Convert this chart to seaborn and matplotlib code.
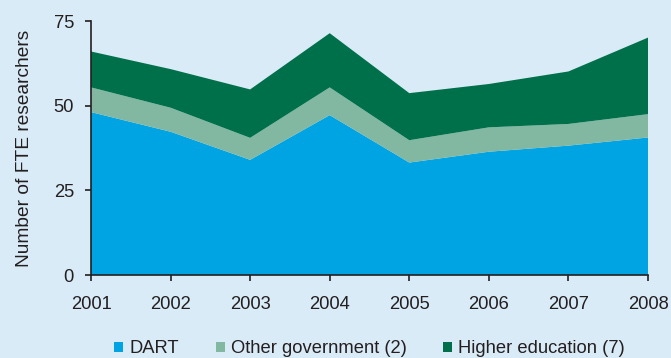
import matplotlib
matplotlib.use("Agg")
import matplotlib.pyplot as plt
import seaborn as sns
import pandas as pd
from matplotlib.patches import Patch

years = [2001, 2002, 2003, 2004, 2005, 2006, 2007, 2008]
dart = [48.1, 42.3, 34.0, 47.2, 33.2, 36.4, 38.2, 40.6]
other_gov = [7.3, 7.1, 6.5, 8.2, 6.6, 7.2, 6.4, 6.9]
higher_ed = [10.6, 11.4, 14.3, 16.0, 13.9, 12.8, 15.5, 22.6]
labels = ["DART", "Other government (2)", "Higher education (7)"]
colors = ["#00A4E2", "#82B8A2", "#00704A"]
bg = "#DAEBF8"
ink = "#231F20"

sns.set_style("ticks")
plt.rcParams["font.family"] = ["Liberation Sans", "DejaVu Sans"]

df = pd.DataFrame({"year": years, labels[0]: dart, labels[1]: other_gov, labels[2]: higher_ed})

fig = plt.figure(figsize=(6.71, 3.58), dpi=100, facecolor=bg)
ax = fig.add_axes([91 / 671, 1 - 275 / 358, (648 - 91) / 671, (275 - 21) / 358])
ax.set_facecolor(bg)

ax.stackplot(df["year"], df[labels[0]], df[labels[1]], df[labels[2]],
             colors=colors, linewidth=0, edgecolor="none")

ax.set_xlim(2001, 2008)
ax.set_ylim(0, 75)
ax.set_xticks(years)
ax.set_yticks([0, 25, 50, 75])
ax.tick_params(axis="both", labelsize=13.2, colors=ink, length=4.3, width=1.2)
ax.tick_params(axis="y", pad=8)
ax.tick_params(axis="x", pad=10.5)
sns.despine(ax=ax)
for s in ["left", "bottom"]:
    ax.spines[s].set_color(ink)
    ax.spines[s].set_linewidth(1.2)
ax.set_ylabel("Number of FTE researchers", fontsize=13.8, color=ink, labelpad=15)
ax.set_xlabel("")

handles = [Patch(facecolor=c, edgecolor="none") for c in colors]
fig.legend(handles, labels, loc="center", bbox_to_anchor=(0.551, 0.026), ncol=3,
           frameon=False, fontsize=13.2, handlelength=0.49, handleheight=0.49,
           handletextpad=0.33, columnspacing=2.0, labelcolor=ink,
           borderpad=0, borderaxespad=0)

fig.savefig("out.png", dpi=100, facecolor=bg)
